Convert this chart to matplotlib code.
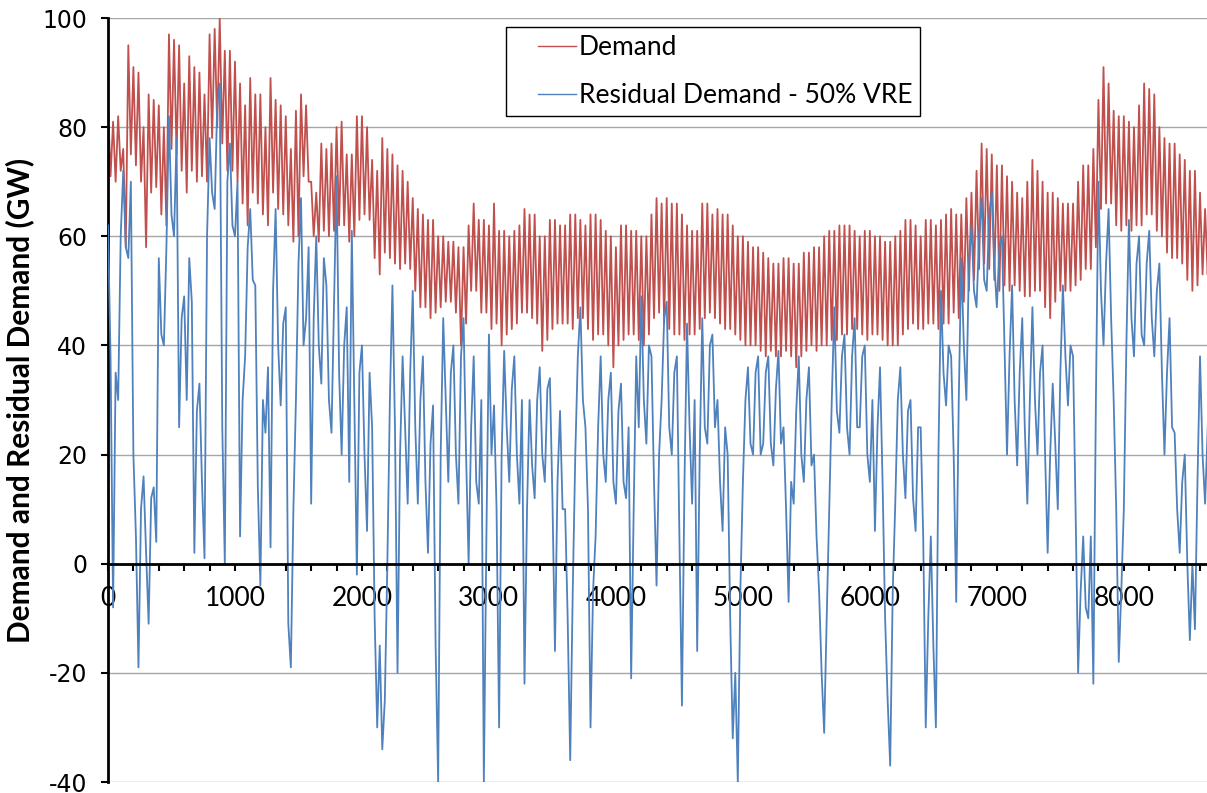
import numpy as np
import matplotlib
matplotlib.use("Agg")
import matplotlib.pyplot as plt
from matplotlib.legend_handler import HandlerLine2D
from matplotlib.ticker import MultipleLocator

plt.rcParams["axes.unicode_minus"] = False

# values, one every `step` hours (GW)
step = 20

demand = [
    84, 71, 81, 70, 82, 72, 76, 58, 95, 75, 91, 73, 90, 70, 80, 58, 86, 68, 85, 69,    # 0 - 380
    84, 64, 80, 62, 97, 76, 96, 75, 95, 72, 88, 68, 93, 72, 91, 70, 90, 71, 86, 70,    # 400 - 780
    97, 78, 98, 80, 100, 77, 94, 72, 94, 72, 92, 70, 88, 66, 84, 62, 89, 68, 86, 66,   # 800 - 1180
    86, 64, 80, 62, 89, 68, 85, 65, 84, 64, 82, 62, 76, 59, 83, 60, 86, 71, 84, 70,    # 1200 - 1580
    70, 60, 68, 59, 77, 61, 76, 60, 77, 61, 80, 62, 81, 62, 75, 59, 75, 60, 82, 63,    # 1600 - 1980
    82, 64, 80, 63, 74, 56, 72, 53, 78, 57, 76, 56, 75, 55, 73, 54, 72, 55, 70, 54,    # 2000 - 2380
    67, 50, 65, 47, 64, 47, 63, 45, 63, 46, 60, 47, 60, 48, 59, 48, 59, 46, 58, 40,    # 2400 - 2780
    58, 44, 62, 50, 66, 50, 63, 46, 63, 46, 62, 43, 66, 44, 61, 40, 61, 42, 60, 43,    # 2800 - 3180
    61, 44, 62, 46, 65, 46, 64, 45, 64, 44, 60, 39, 60, 41, 63, 43, 63, 44, 62, 44,    # 3200 - 3580
    62, 44, 64, 43, 64, 45, 63, 45, 62, 43, 64, 41, 64, 42, 63, 42, 61, 40, 60, 36,    # 3600 - 3980
    58, 40, 62, 41, 62, 42, 61, 42, 61, 41, 60, 40, 60, 42, 64, 45, 67, 46, 66, 44,    # 4000 - 4380
    67, 43, 66, 42, 66, 42, 64, 41, 62, 42, 61, 42, 61, 43, 66, 45, 66, 46, 64, 45,    # 4400 - 4780
    65, 44, 64, 43, 64, 43, 62, 42, 60, 41, 60, 40, 59, 40, 58, 40, 58, 39, 57, 38,    # 4800 - 5180
    56, 39, 55, 38, 55, 38, 56, 39, 56, 38, 55, 36, 55, 38, 57, 39, 57, 40, 58, 39,    # 5200 - 5580
    58, 40, 60, 40, 61, 41, 61, 41, 62, 42, 62, 42, 62, 43, 61, 43, 60, 42, 61, 41,    # 5600 - 5980
    61, 42, 60, 42, 60, 41, 59, 40, 59, 40, 60, 40, 61, 42, 63, 43, 63, 44, 62, 43,    # 6000 - 6380
    60, 43, 63, 44, 63, 44, 62, 43, 63, 44, 64, 44, 65, 46, 64, 45, 64, 48, 67, 50,    # 6400 - 6780
    68, 52, 72, 54, 77, 55, 76, 54, 75, 52, 73, 50, 73, 51, 71, 50, 70, 51, 68, 50,    # 6800 - 7180
    67, 49, 70, 49, 74, 50, 72, 50, 70, 47, 68, 45, 68, 48, 67, 50, 66, 50, 66, 50,    # 7200 - 7580
    66, 51, 70, 52, 73, 54, 73, 54, 76, 58, 85, 65, 91, 66, 88, 66, 83, 62, 82, 61,    # 7600 - 7980
    82, 62, 81, 61, 80, 62, 84, 62, 88, 64, 87, 64, 86, 61, 80, 60, 78, 57, 77, 56,    # 8000 - 8380
    77, 56, 75, 55, 74, 52, 72, 50, 72, 51, 68, 53, 65, 53, 64, 55, 60, 53, 62, 55,    # 8400 - 8780
]

residual = [
    62, 38, -8, 35, 30, 60, 72, 58, 56, 70, 20, 5, -19, 10, 16, 2, -11, 12, 14, 4,          # 0 - 380
    56, 42, 40, 58, 82, 64, 60, 78, 25, 45, 49, 30, 56, 48, 2, 28, 33, 15, 1, 60,           # 400 - 780
    78, 68, 65, 84, 88, 25, 0, 70, 77, 62, 60, 70, 5, 30, 38, 58, 65, 52, 51, 14,           # 800 - 1180
    -4, 30, 24, 36, 3, 50, 65, 40, 29, 44, 47, -11, -19, 10, 30, 55, 67, 40, 45, 58,        # 1200 - 1580
    11, 45, 60, 40, 33, 56, 51, 30, 24, 48, 71, 35, 20, 40, 47, 15, 61, 30, -2, 35,         # 1600 - 1980
    40, 20, 6, 35, 25, -10, -30, -15, -34, -25, 0, 30, 51, 25, -20, 20, 38, 25, 11, 35,     # 2000 - 2380
    50, 25, 11, 30, 38, 15, 2, 22, 29, -15, -40, 20, 45, 30, 15, 35, 40, 20, 11, 38,        # 2400 - 2780
    45, 20, 0, 25, 38, 15, 11, 30, -40, 5, 42, 20, 29, 10, -30, 20, 39, 25, 15, 32,         # 2800 - 3180
    38, 20, 11, 30, -22, 10, 30, 18, 12, 30, 36, 20, 15, 32, 34, 12, -16, 15, 28, 10,       # 3200 - 3580
    10, -10, -36, -5, 20, 38, 47, 30, 25, 10, -30, -5, 5, 25, 38, 20, 15, 30, 35, 15,       # 3600 - 3980
    11, 28, 33, 15, 12, 25, -21, 10, 38, 25, 49, 30, 22, 40, 38, 15, -4, 20, 30, 45,        # 4000 - 4380
    48, 25, 20, 35, 38, 5, -26, 15, 44, 25, 11, 30, -16, 20, 45, 25, 22, 40, 42, 25,        # 4400 - 4780
    30, 15, 6, 25, 20, -10, -32, -20, -40, -5, 15, 30, 36, 22, 20, 35, 38, 20, 22, 35,      # 4800 - 5180
    38, 22, 18, 32, 39, 22, 25, 10, -7, 15, 11, 28, 38, 20, 15, 30, 36, 18, 20, 5,          # 5200 - 5580
    -5, -20, -31, -10, 10, 30, 47, 28, 24, 38, 42, 25, 20, 38, 45, 25, 25, 38, 40, 20,      # 5600 - 5980
    15, 30, 6, 25, 36, 15, -10, -25, -37, -5, 11, 30, 36, 20, 12, 28, 30, 12, 6, 25,        # 6000 - 6380
    25, 5, -30, -10, 5, -15, -30, 20, 50, 35, 29, 40, 38, 20, -7, 30, 56, 40, 30, 55,       # 6400 - 6780
    62, 50, 47, 60, 67, 52, 50, 64, 68, 55, 47, 58, 60, 40, 20, 38, 51, 30, 18, 35,         # 6800 - 7180
    45, 25, 11, 30, 47, 30, 20, 35, 40, 20, 2, 20, 33, 22, 10, 35, 51, 38, 29, 40,          # 7200 - 7580
    38, 10, -20, -5, 5, -8, -10, 5, -22, 30, 70, 50, 40, 55, 65, 45, 30, 10, -18, -5,       # 7600 - 7980
    10, 40, 63, 45, 38, 55, 60, 42, 40, 55, 61, 45, 38, 50, 55, 35, 20, 35, 45, 25,         # 8000 - 8380
    24, 10, 2, 15, 20, 0, -14, 0, -12, 15, 38, 20, 11, 25, 35, 15, 5, 20, 30, 15,           # 8400 - 8780
]

hours_d = np.arange(len(demand)) * step
hours_r = np.arange(len(residual)) * step

red = "#C0504D"
blue = "#4F81BD"


class ShortLine(HandlerLine2D):
    # Excel draws the legend line only on the right part of the key
    def get_xdata(self, legend, xdescent, ydescent, width, height, fontsize):
        x = [-xdescent + 0.39 * width, -xdescent + width]
        return x, x[1:]


fig = plt.figure(figsize=(12.07, 7.93), dpi=100, facecolor="white")
ax = fig.add_axes([108 / 1207, 11 / 793, 1099 / 1207, 764 / 793])

l1, = ax.plot(hours_d, demand, color=red, lw=1.3, label="Demand", zorder=2)
l2, = ax.plot(hours_r, residual, color=blue, lw=1.3,
              label="Residual Demand - 50% VRE", zorder=3)

ax.set_xlim(0, 8655)
ax.set_ylim(-40, 100)

# y axis
ax.yaxis.set_major_locator(MultipleLocator(20))
ax.grid(axis="y", color="#a6a6a6", lw=1.0, zorder=0)
ax.set_axisbelow(True)
ax.tick_params(axis="y", direction="out", length=5, width=1.5, pad=10,
               labelsize=17, labelfontfamily="DejaVu Sans")

# x axis sits on zero
ax.spines["bottom"].set_position(("data", 0))
ax.spines["bottom"].set_linewidth(2)
ax.spines["bottom"].set_zorder(4)
ax.spines["left"].set_linewidth(2)
ax.spines["top"].set_visible(False)
ax.spines["right"].set_visible(False)
ax.xaxis.set_major_locator(MultipleLocator(1000))
ax.xaxis.set_minor_locator(MultipleLocator(200))
ax.tick_params(axis="x", which="both", direction="out", length=5, width=1.5)
ax.tick_params(axis="x", which="major", pad=11, labelsize=19,
               labelfontfamily="Lato")

ax.set_ylabel("Demand and Residual Demand (GW)", fontsize=21.5,
              fontweight="bold", family="Lato")
ax.yaxis.set_label_coords(-0.067, 0.5)

leg = ax.legend(handles=[l1, l2], loc="upper left",
                bbox_to_anchor=(506 / 1207, 1 - 27 / 793),
                bbox_transform=fig.transFigure, borderaxespad=0,
                prop={"family": "Lato", "size": 19}, fancybox=False,
                edgecolor="black", framealpha=1, handlelength=2.35,
                handletextpad=0.1, labelspacing=0.88, borderpad=0.3,
                handler_map={l1: ShortLine(), l2: ShortLine()})
leg.get_frame().set_linewidth(1.0)
for line in leg.get_lines():
    line.set_linewidth(1.0)

fig.savefig("out.png", dpi=100, facecolor="white")
